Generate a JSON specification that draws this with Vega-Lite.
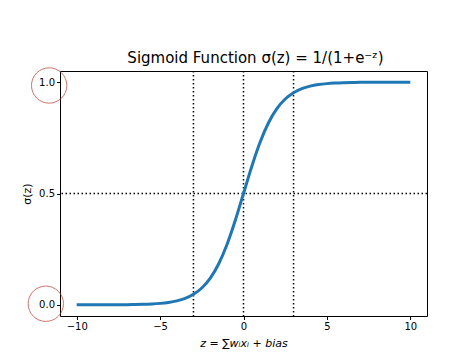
{
  "$schema": "https://vega.github.io/schema/vega-lite/v6.json",
  "width": 367,
  "height": 245,
  "autosize": "none",
  "padding": {"left": 60, "top": 71, "right": 47, "bottom": 39},
  "background": "white",
  "config": {
    "view": {"stroke": "black", "strokeWidth": 1},
    "font": "DejaVu Sans",
    "axis": {
      "domain": false,
      "grid": false,
      "labelFont": "DejaVu Sans",
      "labelFontSize": 10,
      "labelColor": "black",
      "tickColor": "black",
      "tickSize": 3.5,
      "labelPadding": 2,
      "titleFont": "DejaVu Sans",
      "titleFontSize": 11,
      "titleFontWeight": "normal",
      "titleColor": "black"
    }
  },
  "title": {
    "text": "Sigmoid Function σ(z) = 1/(1+e⁻ᶻ)",
    "font": "DejaVu Sans",
    "fontSize": 15,
    "fontWeight": "normal",
    "color": "black",
    "offset": 0,
    "dx": 12
  },
  "datasets": {
    "sig": [
      {"z": -10, "s": 0.0000454},
      {"z": -9.5, "s": 0.0000749},
      {"z": -9, "s": 0.000123},
      {"z": -8.5, "s": 0.000203},
      {"z": -8, "s": 0.000335},
      {"z": -7.5, "s": 0.000553},
      {"z": -7, "s": 0.000911},
      {"z": -6.5, "s": 0.001501},
      {"z": -6, "s": 0.002473},
      {"z": -5.5, "s": 0.00407},
      {"z": -5, "s": 0.006693},
      {"z": -4.5, "s": 0.010987},
      {"z": -4, "s": 0.017986},
      {"z": -3.5, "s": 0.029312},
      {"z": -3, "s": 0.047426},
      {"z": -2.5, "s": 0.075858},
      {"z": -2, "s": 0.119203},
      {"z": -1.5, "s": 0.182426},
      {"z": -1, "s": 0.268941},
      {"z": -0.5, "s": 0.377541},
      {"z": 0, "s": 0.5},
      {"z": 0.5, "s": 0.622459},
      {"z": 1, "s": 0.731059},
      {"z": 1.5, "s": 0.817574},
      {"z": 2, "s": 0.880797},
      {"z": 2.5, "s": 0.924142},
      {"z": 3, "s": 0.952574},
      {"z": 3.5, "s": 0.970688},
      {"z": 4, "s": 0.982014},
      {"z": 4.5, "s": 0.989013},
      {"z": 5, "s": 0.993307},
      {"z": 5.5, "s": 0.99593},
      {"z": 6, "s": 0.997527},
      {"z": 6.5, "s": 0.998499},
      {"z": 7, "s": 0.999089},
      {"z": 7.5, "s": 0.999447},
      {"z": 8, "s": 0.999665},
      {"z": 8.5, "s": 0.999797},
      {"z": 9, "s": 0.999877},
      {"z": 9.5, "s": 0.999925},
      {"z": 10, "s": 0.999955}
    ],
    "vlines": [{"z": -3}, {"z": 0}, {"z": 3}],
    "hlines": [{"s": 0.5}],
    "marks": [{"z": -11.65, "s": 0.985}, {"z": -11.85, "s": 0.005}]
  },
  "layer": [
    {
      "data": {"name": "vlines"},
      "mark": {"type": "rule", "color": "black", "strokeWidth": 1.5, "strokeDash": [1.5, 2.5]},
      "encoding": {
        "x": {"field": "z", "type": "quantitative", "scale": {"domain": [-11, 11], "nice": false}}
      }
    },
    {
      "data": {"name": "hlines"},
      "mark": {"type": "rule", "color": "black", "strokeWidth": 1.5, "strokeDash": [1.5, 2.5]},
      "encoding": {
        "y": {"field": "s", "type": "quantitative", "scale": {"domain": [-0.05, 1.05], "nice": false}}
      }
    },
    {
      "data": {"name": "sig"},
      "mark": {"type": "line", "color": "#1f77b4", "strokeWidth": 3, "interpolate": "monotone"},
      "encoding": {
        "x": {
          "field": "z", "type": "quantitative",
          "scale": {"domain": [-11, 11], "nice": false},
          "axis": {"values": [-10, -5, 0, 5, 10], "format": "d", "title": "z = ∑wᵢxᵢ + bias", "titleFontStyle": "italic", "titlePadding": 6}
        },
        "y": {
          "field": "s", "type": "quantitative",
          "scale": {"domain": [-0.05, 1.05], "nice": false},
          "axis": {"values": [0, 0.5, 1], "format": ".1f", "title": "σ(z)", "titlePadding": 6}
        }
      }
    },
    {
      "data": {"name": "marks"},
      "mark": {"type": "point", "shape": "circle", "filled": false, "color": "#c0392b", "strokeWidth": 1, "size": 1250, "clip": false},
      "encoding": {
        "x": {"field": "z", "type": "quantitative"},
        "y": {"field": "s", "type": "quantitative"}
      }
    }
  ]
}
